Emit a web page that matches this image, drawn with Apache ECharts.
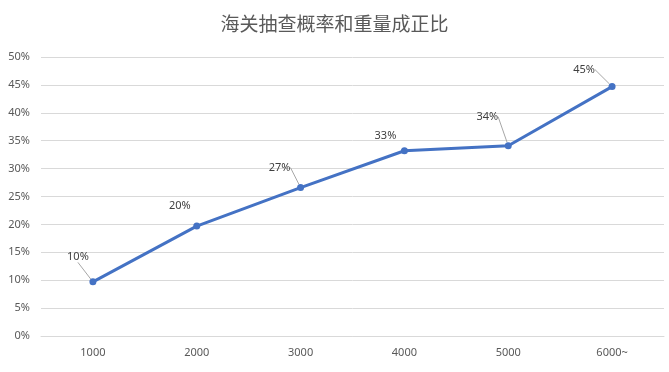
<!DOCTYPE html>
<html><head><meta charset="utf-8">
<script src="https://cdn.jsdelivr.net/npm/echarts@6/dist/echarts.min.js"></script>
<style>html,body{margin:0;padding:0;background:#fff}#c{width:669px;height:372px}</style>
</head><body><div id="c"></div>
<script>
var titleText = '海关抽查概率和重量成正比';
var categories = ['1000', '2000', '3000', '4000', '5000', '6000~'];
var values = [0.097, 0.197, 0.266, 0.332, 0.341, 0.447];
var yTicks = [0, 0.05, 0.10, 0.15, 0.20, 0.25, 0.30, 0.35, 0.40, 0.45, 0.50];

var labelShift = [[-15, -11], [-17, -6], [-21, -6], [-19, -1], [-21, -15], [-28, -3]];
var showLeader = [true, false, true, false, true, true];

var chart = echarts.init(document.getElementById('c'));
chart.setOption({
  animation: false,
  title: {
    text: titleText, left: 'center', top: 9,
    textStyle: {fontFamily: 'Noto Sans CJK SC', fontSize: 19, fontWeight: 'normal', color: '#595959'}
  },
  grid: {left: 41, right: 5, top: 57, bottom: 36, containLabel: false},
  xAxis: {
    type: 'category', data: categories, boundaryGap: true,
    axisLine: {lineStyle: {color: '#d9d9d9'}},
    axisTick: {show: false},
    axisLabel: {color: '#595959', fontSize: 11, fontFamily: 'Noto Sans', margin: 11}
  },
  yAxis: {
    type: 'value', min: 0, max: 0.5, interval: 0.05,
    axisLine: {show: false}, axisTick: {show: false},
    splitLine: {lineStyle: {color: '#d9d9d9'}},
    axisLabel: {color: '#595959', fontSize: 11, fontFamily: 'Noto Sans', margin: 11,
      formatter: function (v) { return Math.round(v * 100) + '%'; }}
  },
  series: [{
    type: 'line',
    data: values.map(function (v, i) { return {value: v, labelLine: {show: showLeader[i]}}; }),
    lineStyle: {color: '#4472C4', width: 3},
    itemStyle: {color: '#4472C4'},
    symbol: 'circle', symbolSize: 7,
    label: {show: true, position: 'top', color: '#404040', fontSize: 11, fontFamily: 'Noto Sans',
      formatter: function (p) { return Math.round(p.value * 100) + '%'; }},
    labelLine: {show: true, lineStyle: {color: '#a6a6a6', width: 1}},
    labelLayout: function (p) {
      var s = labelShift[p.dataIndex];
      return {dx: s[0], dy: s[1]};
    }
  }]
});
</script></body></html>
